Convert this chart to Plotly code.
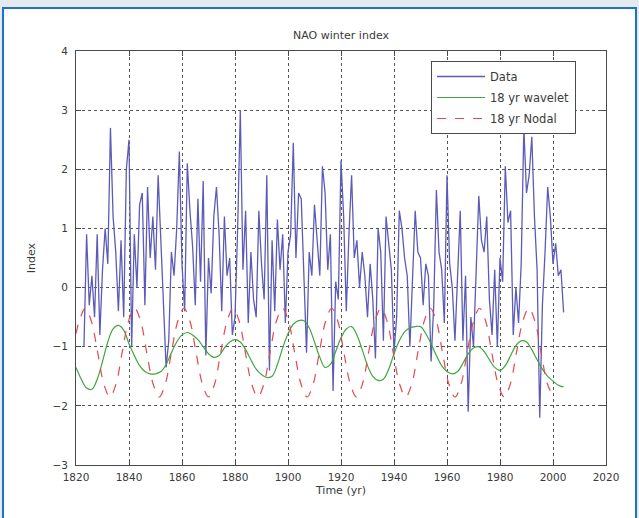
import plotly.graph_objects as go

# ---------------- data ----------------
data_years = list(range(1823, 2005))
data_values = [
    -1.0, 0.9, -0.3, 0.2, -0.5, 0.9, -0.8,                       # 1823-1829
    0.3, 1.0, 0.4, 2.7, 1.2, 0.6, -0.4, 0.8, -0.5, 2.0,          # 1830-1839
    2.5, -1.0, 0.9, 0.0, 1.4, 1.6, -0.3, 1.7, 0.5, 1.2,          # 1840-1849
    0.3, 1.9, 0.8, -0.2, -1.35, -0.9, 0.6, 0.2, 1.0, 2.3,        # 1850-1859
    0.4, -0.4, 2.1, 1.3, 0.7, -0.3, 1.5, 0.1, 1.8, -1.15,        # 1860-1869
    0.5, -0.1, 1.2, 1.7, 0.9, -0.4, 1.2, 0.2, 0.5, -0.8,         # 1870-1879
    -0.5, 1.0, 3.0, 0.3, 1.3, -0.6, 0.6, -0.2, -0.5, 1.3,        # 1880-1889
    0.4, -0.2, 1.9, -1.4, 0.8, -0.4, 1.15, 0.3, 0.9, -0.6,       # 1890-1899
    0.6, 0.9, 2.45, 0.5, 1.6, 1.5, 0.3, -1.1, 0.6, 0.2,          # 1900-1909
    1.4, 0.8, 0.2, 2.05, 1.6, 0.3, 0.9, -1.75, 0.1, -0.2,        # 1910-1919
    2.15, 1.2, -0.4, 0.9, 1.9, 0.5, 0.8, 0.0, 0.6, 0.2,          # 1920-1929
    -0.5, 0.4, -0.2, -1.2, 1.0, 0.6, -0.9, 1.2, 0.8, 0.3,        # 1930-1939
    -1.1, -0.5, 1.3, 1.0, 0.5, 0.2, -1.0, 0.2, 1.3, 0.6,         # 1940-1949
    0.5, -0.3, 0.4, 0.2, -1.25, -0.3, 1.65, 0.6, 0.3, -0.6,      # 1950-1959
    1.9, 0.4, 0.0, -0.9, 0.3, 1.3, -0.9, 0.2, -2.1, -0.5,        # 1960-1969
    -1.0, 0.4, 1.55, 0.8, 0.6, 1.2, -0.2, -0.8, 0.3, -1.0,       # 1970-1979
    0.5, 0.1, 2.05, 1.1, 1.3, -0.8, 0.0, -0.6, 0.4, 2.7,         # 1980-1989
    1.6, 1.9, 2.55, 1.2, 0.3, -2.2, -0.3, 0.6, 1.7, 1.2,         # 1990-1999
    0.4, 0.75, 0.2, 0.3, -0.42,                                  # 2000-2004
]

wavelet_years = list(range(1820, 2005, 2))
wavelet_values = [
    -1.35, -1.55, -1.70, -1.72, -1.55, -1.25, -0.92, -0.70, -0.64, -0.72,   # 1820-1838
    -0.95, -1.15, -1.32, -1.42, -1.46, -1.46, -1.42, -1.30, -1.10, -0.92,   # 1840-1858
    -0.80, -0.76, -0.80, -0.88, -1.00, -1.12, -1.18, -1.15, -1.02, -0.92,   # 1860-1878
    -0.88, -0.92, -1.05, -1.22, -1.38, -1.47, -1.52, -1.50, -1.30, -1.02,   # 1880-1898
    -0.78, -0.62, -0.56, -0.56, -0.68, -0.92, -1.18, -1.35, -1.30, -1.08,   # 1900-1918
    -0.85, -0.70, -0.66, -0.80, -1.05, -1.32, -1.50, -1.57, -1.55, -1.38,   # 1920-1938
    -1.12, -0.90, -0.75, -0.68, -0.66, -0.66, -0.78, -0.95, -1.15, -1.32,   # 1940-1958
    -1.42, -1.46, -1.42, -1.28, -1.12, -1.02, -1.00, -1.08, -1.22, -1.35,   # 1960-1978
    -1.40, -1.32, -1.15, -0.98, -0.90, -0.92, -1.05, -1.22, -1.38, -1.50,   # 1980-1998
    -1.58, -1.65, -1.68,                                                    # 2000-2004
]

nodal_years = [
    1820.0, 1821.2, 1823.5, 1825.8, 1828.2, 1830.5, 1832.8, 1835.1, 1837.4, 1839.8,
    1842.1, 1844.4, 1846.7, 1849.1, 1851.4, 1853.7, 1856.0, 1858.4, 1860.7, 1863.0,
    1865.3, 1867.7, 1870.0, 1872.3, 1874.6, 1877.0, 1879.3, 1881.6, 1883.9, 1886.3,
    1888.6, 1890.9, 1893.2, 1895.6, 1897.9, 1900.2, 1902.5, 1904.9, 1907.2, 1909.5,
    1911.8, 1914.2, 1916.5, 1918.8, 1921.1, 1923.5, 1925.8, 1928.1, 1930.4, 1932.8,
    1935.1, 1937.4, 1939.7, 1942.1, 1944.4, 1946.7, 1949.0, 1951.4, 1953.7, 1956.0,
    1958.3, 1960.7, 1963.0, 1965.3, 1967.6, 1970.0, 1972.3, 1974.6, 1976.9, 1979.3,
    1981.6, 1983.9, 1986.2, 1988.6, 1990.9, 1993.2, 1995.5, 1997.9, 2000.2,
]
nodal_values = [
    -0.78, -0.57, -0.35, -0.57, -1.10, -1.63, -1.85, -1.63, -1.10, -0.57,
    -0.35, -0.57, -1.10, -1.63, -1.85, -1.63, -1.10, -0.57, -0.35, -0.57,
    -1.10, -1.63, -1.85, -1.63, -1.10, -0.57, -0.35, -0.57, -1.10, -1.63,
    -1.85, -1.63, -1.10, -0.57, -0.35, -0.57, -1.10, -1.63, -1.85, -1.63,
    -1.10, -0.57, -0.35, -0.57, -1.10, -1.63, -1.85, -1.63, -1.10, -0.57,
    -0.35, -0.57, -1.10, -1.63, -1.85, -1.63, -1.10, -0.57, -0.35, -0.57,
    -1.10, -1.63, -1.85, -1.63, -1.10, -0.57, -0.35, -0.57, -1.10, -1.63,
    -1.85, -1.63, -1.10, -0.57, -0.35, -0.57, -1.10, -1.63, -1.85,
]

x_ticks = [1820, 1840, 1860, 1880, 1900, 1920, 1940, 1960, 1980, 2000, 2020]
y_ticks = [-3, -2, -1, 0, 1, 2, 3, 4]

# ---------------- figure ----------------
FONT = "DejaVu Sans, Verdana, sans-serif"
TXT = "#3a3a3a"
SURROUND = "#e5e9f0"

fig = go.Figure()
fig.add_trace(go.Scatter(
    x=data_years, y=data_values, mode="lines", name="Data",
    line=dict(color="#5c5cb8", width=1.3), legendgroup="a"))
fig.add_trace(go.Scatter(
    x=wavelet_years, y=wavelet_values, mode="lines", name="18 yr wavelet",
    line=dict(color="#3fa63f", width=1.2, shape="spline"), legendgroup="b"))
fig.add_trace(go.Scatter(
    x=nodal_years, y=nodal_values, mode="lines", name="18 yr Nodal",
    line=dict(color="#e04a50", width=1.2, dash="dash", shape="spline"), legendgroup="c"))

L, R, T, B = 76, 33, 51, 53
W, H = 639, 518
pw, ph = W - L - R, H - T - B


def px_x(p):
    return (p - L) / pw


def px_y(p):
    return (H - B - p) / ph


# outer page frame (light surround + blue border)
fig.add_shape(type="rect", xref="paper", yref="paper",
              x0=px_x(3), x1=px_x(636), y0=px_y(540), y1=px_y(8),
              fillcolor="white", line=dict(color="#1f72c2", width=2),
              layer="below")

axis_common = dict(
    showline=True, linecolor="#4a4a4a", linewidth=1, mirror="ticks",
    ticks="inside", ticklen=5, tickcolor="#4a4a4a",
    showgrid=True, gridcolor="#555555", griddash="dot", gridwidth=1,
    zeroline=False, tickfont=dict(family=FONT, size=10.5, color=TXT),
)

fig.update_xaxes(range=[1820, 2020], tickvals=x_ticks, ticklabelstandoff=2,
                 title=dict(text="Time (yr)", font=dict(family=FONT, size=11, color=TXT), standoff=4),
                 **axis_common)
fig.update_yaxes(range=[-3, 4], tickvals=y_ticks, ticklabelstandoff=5,
                 title=dict(text="Index", font=dict(family=FONT, size=11, color=TXT), standoff=14),
                 **axis_common)

fig.update_layout(
    width=W, height=H,
    margin=dict(l=L, r=R, t=T, b=B, autoexpand=False),
    paper_bgcolor=SURROUND, plot_bgcolor="white",
    title=dict(text="NAO winter index", x=0.5 * (L + W - R) / W, xanchor="center",
               y=1 - 35 / H, yanchor="middle",
               font=dict(family=FONT, size=11, color=TXT)),
    showlegend=True,
    legend=dict(x=px_x(431), y=px_y(61), xanchor="left", yanchor="top",
                bgcolor="white", bordercolor="#4a4a4a", borderwidth=1,
                font=dict(family=FONT, size=11.5, color=TXT),
                tracegroupgap=2, itemwidth=48),
)

fig.write_html(
    "out.html",
    config={"displayModeBar": False},
    post_script=("document.body.style.margin='0';"
                 "document.body.style.overflow='hidden';"
                 "document.body.style.background='" + SURROUND + "';"),
)
